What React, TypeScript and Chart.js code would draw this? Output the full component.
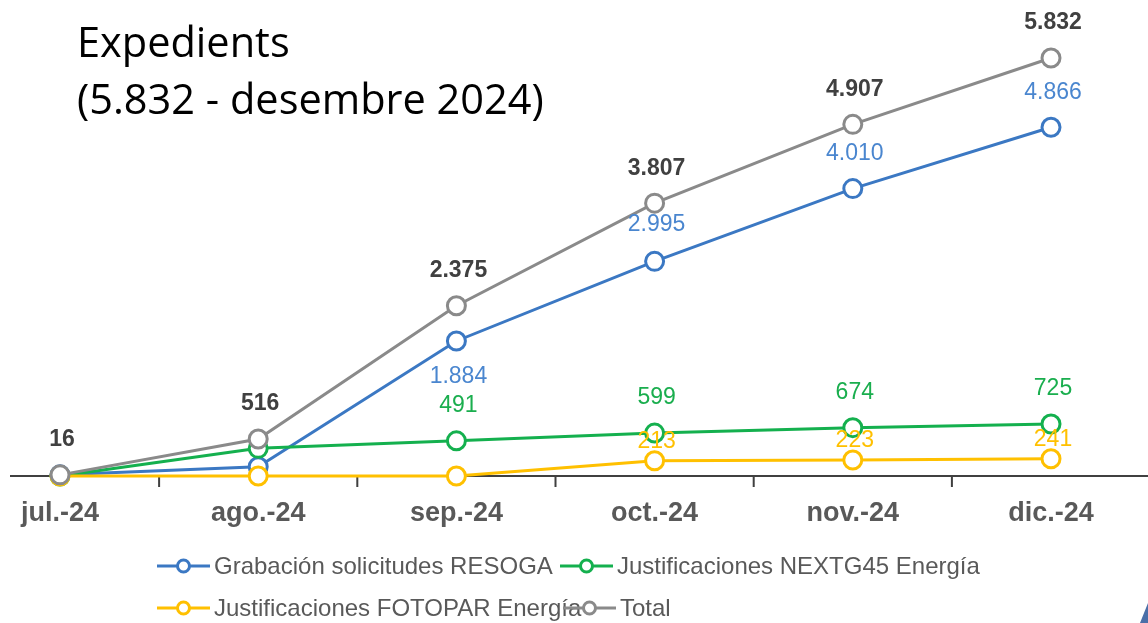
import { useEffect, useRef } from "react";
import { Chart, registerables } from "chart.js";

Chart.register(...registerables);

// ---- data ----
const months = ["jul.-24", "ago.-24", "sep.-24", "oct.-24", "nov.-24", "dic.-24"];
const resoga = [16, 130, 1884, 2995, 4010, 4866];
const nextg45 = [0, 386, 491, 599, 674, 725];
const fotopar = [0, 0, 0, 213, 223, 241];
const total = [16, 516, 2375, 3807, 4907, 5832];

const resogaLabelShown = [false, false, true, true, true, true];
const nextg45LabelShown = [false, false, true, true, true, true];
const fotoparLabelShown = [false, false, false, true, true, true];
const totalLabelShown = [true, true, true, true, true, true];

const seriesNames = [
  "Grabación solicitudes RESOGA",
  "Justificaciones NEXTG45 Energía",
  "Justificaciones FOTOPAR Energía",
  "Total",
];
const titleLines = ["Expedients", "(5.832 - desembre 2024)"];

// ---- styles ----
const BLUE = "#3b78c3";
const GREEN = "#14b04e";
const YELLOW = "#ffc000";
const GRAY = "#8a8a8a";
const FONT = "'Liberation Sans', Arial, sans-serif";

const fmt = (n: number) => String(n).replace(/\B(?=(\d{3})+(?!\d))/g, ".");

const legendPos = [
  { x: 157, y: 566 },
  { x: 560, y: 566 },
  { x: 157, y: 608 },
  { x: 563, y: 608 },
];

const extrasPlugin = {
  id: "extras",
  beforeDatasetsDraw(chart: any) {
    const ctx = chart.ctx;
    const xs = chart.scales.x;
    const y0 = chart.scales.y.getPixelForValue(0);
    ctx.save();
    ctx.strokeStyle = "#404040";
    ctx.lineWidth = 2;
    ctx.beginPath();
    ctx.moveTo(10, y0);
    ctx.lineTo(chart.width, y0);
    for (let i = 0; i < months.length; i++) {
      const a = xs.getPixelForValue(i);
      const b = xs.getPixelForValue(i + 1);
      const m = (a + b) / 2;
      ctx.moveTo(m, y0);
      ctx.lineTo(m, y0 + 11);
    }
    ctx.stroke();
    ctx.restore();
  },
  afterDatasetsDraw(chart: any) {
    const ctx = chart.ctx;
    ctx.save();
    ctx.textAlign = "center";
    ctx.textBaseline = "middle";
    chart.data.datasets.forEach((ds: any, di: number) => {
      const meta = chart.getDatasetMeta(di);
      ctx.font = ds.labelFont;
      ctx.fillStyle = ds.labelColor;
      meta.data.forEach((pt: any, i: number) => {
        if (!ds.labelShown[i]) return;
        const off = ds.labelOffsets ? ds.labelOffsets[i] : ds.labelOffset;
        ctx.fillText(fmt(ds.data[i]), pt.x + 2, pt.y + off);
      });
    });
    ctx.restore();
  },
  afterDraw(chart: any) {
    const ctx = chart.ctx;
    ctx.save();
    // title
    ctx.fillStyle = "#000000";
    ctx.font = "41.5px 'Open Sans', sans-serif";
    ctx.textAlign = "left";
    ctx.textBaseline = "alphabetic";
    ctx.fillText(titleLines[0], 77, 57);
    ctx.fillText(titleLines[1], 77, 114);
    // legend
    ctx.font = "24px " + FONT;
    ctx.textBaseline = "middle";
    chart.data.datasets.forEach((ds: any, di: number) => {
      const p = legendPos[di];
      ctx.strokeStyle = ds.borderColor;
      ctx.lineWidth = 3;
      ctx.beginPath();
      ctx.moveTo(p.x, p.y);
      ctx.lineTo(p.x + 53, p.y);
      ctx.stroke();
      ctx.beginPath();
      ctx.arc(p.x + 26.5, p.y, 6, 0, Math.PI * 2);
      ctx.fillStyle = "#ffffff";
      ctx.fill();
      ctx.stroke();
      ctx.fillStyle = "#595959";
      ctx.fillText(seriesNames[di], p.x + 57, p.y + 1);
    });
    // corner fragment
    ctx.fillStyle = "#4a6fa8";
    ctx.beginPath();
    ctx.moveTo(1148, 603);
    ctx.lineTo(1148, 623);
    ctx.lineTo(1140, 623);
    ctx.closePath();
    ctx.fill();
    ctx.restore();
  },
};

export default function App() {
  const ref = useRef<HTMLCanvasElement | null>(null);
  useEffect(() => {
    if (!ref.current) return;
    const common = {
      pointRadius: 9,
      pointHoverRadius: 9,
      pointBorderWidth: 3,
      pointBackgroundColor: "#ffffff",
      borderWidth: 3,
      tension: 0,
      clip: false as any,
    };
    const chart = new Chart(ref.current, {
      type: "line",
      data: {
        labels: months,
        datasets: [
          {
            ...common,
            label: seriesNames[0],
            data: resoga,
            borderColor: BLUE,
            pointBorderColor: BLUE,
            order: 3,
            labelShown: resogaLabelShown,
            labelOffsets: [-35, -35, 36, -37, -35, -35],
            labelColor: "#4a86cf",
            labelFont: "23px " + FONT,
          } as any,
          {
            ...common,
            label: seriesNames[1],
            data: nextg45,
            borderColor: GREEN,
            pointBorderColor: GREEN,
            order: 2,
            labelShown: nextg45LabelShown,
            labelOffset: -35,
            labelColor: "#1aae4e",
            labelFont: "23px " + FONT,
          } as any,
          {
            ...common,
            label: seriesNames[2],
            data: fotopar,
            borderColor: YELLOW,
            pointBorderColor: YELLOW,
            order: 1,
            labelShown: fotoparLabelShown,
            labelOffset: -19,
            labelColor: "#ffc000",
            labelFont: "23px " + FONT,
          } as any,
          {
            ...common,
            label: seriesNames[3],
            data: total,
            borderColor: GRAY,
            pointBorderColor: GRAY,
            order: 0,
            labelShown: totalLabelShown,
            labelOffset: -35,
            labelColor: "#404040",
            labelFont: "bold 23px " + FONT,
          } as any,
        ],
      },
      options: {
        animation: false,
        responsive: false,
        devicePixelRatio: 1,
        layout: { padding: { left: 58, right: 97, top: 46, bottom: 72.6 } },
        plugins: {
          legend: { display: false },
          tooltip: { enabled: false },
          title: { display: false },
        },
        scales: {
          x: {
            offset: false,
            grid: { display: false, drawTicks: false, tickLength: 0 },
            border: { display: false },
            ticks: {
              color: "#595959",
              font: { family: FONT, size: 27, weight: "bold" },
              padding: 21,
              maxRotation: 0,
              autoSkip: false,
            },
          },
          y: {
            display: false,
            min: 0,
            max: 6000,
          },
        },
      },
      plugins: [extrasPlugin],
    });
    return () => chart.destroy();
  }, []);
  return (
    <div style={{ position: "fixed", left: 0, top: 0, width: 1148, height: 623, background: "#fff" }}>
      <canvas ref={ref} width={1148} height={623} style={{ width: 1148, height: 623, display: "block" }} />
    </div>
  );
}
